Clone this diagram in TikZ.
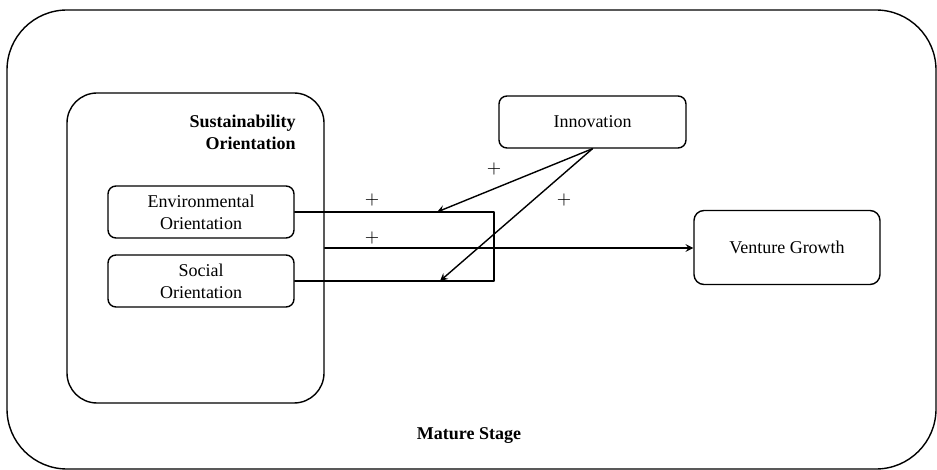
\documentclass[tikz,border=0pt]{standalone}
\usepackage{fontspec}
\setmainfont{Liberation Serif}
\usetikzlibrary{positioning}
\begin{document}
\begin{tikzpicture}[x=0.5pt, y=-0.5pt, line join=round, line cap=round, >=stealth, line width=0.7pt]
	\tikzset{every node/.style={font=\fontsize{9}{11}\selectfont},
		box/.style={draw, rounded corners=4pt, align=center, inner sep=0pt, minimum width=93pt, minimum height=26pt}}
	\useasboundingbox (0,0) rectangle (937,470);
	% frames
	\node[draw, rounded corners=30pt, minimum width=464.5pt, minimum height=229.5pt, inner sep=0pt] (stage) at (471.5,239.5) {};
	\node[draw, rounded corners=15pt, minimum width=128.5pt, minimum height=155pt, inner sep=0pt] (so) at (195.5,248) {};
	\node[font=\fontsize{9}{11}\selectfont\bfseries, align=right, anchor=north east] (sotitle) at (303,108) {Sustainability\\Orientation};
	\node[font=\fontsize{9}{11}\selectfont\bfseries] (mature) at (469,436) {Mature Stage};
	% boxes
	\node[box] (env) at (201,212) {Environmental\\Orientation};
	\node[box] (soc) at (201,281) {Social\\Orientation};
	\node[box, minimum width=93.5pt] (inno) at (592.5,122) {Innovation};
	\node[box, rounded corners=5pt, minimum height=37pt] (vg) at (787,247.5) {Venture Growth};
	% connectors
	\coordinate (r1) at (494,212);
	\coordinate (r2) at (494,281);
	\coordinate (m1) at (437,212);
	\coordinate (m2) at (440,281);
	\draw (env.east)--(r1)--(r2)--(soc.east);
	\draw[->] (so.east)--(so.east -| vg.west);
	\draw[->] (inno.south)--(m1);
	\draw[->] (inno.south)--(m2);
	\foreach \p/\x/\y in {pa/494/169,pb/372/200,pc/372/238,pd/564/200}
	\node (\p) at (\x,\y) {$+$};
\end{tikzpicture}
\end{document}
